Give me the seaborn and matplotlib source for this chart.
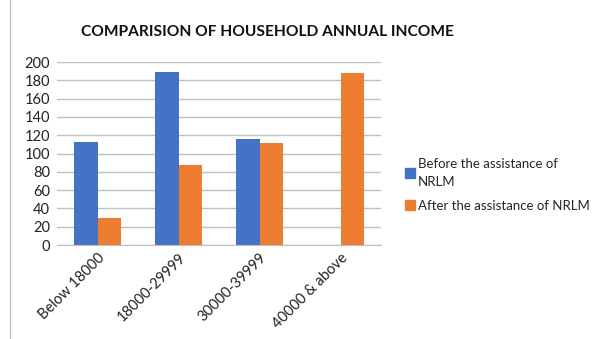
import numpy as np
import pandas as pd
import matplotlib.pyplot as plt
import seaborn as sns
from matplotlib.lines import Line2D

categories = ['Below 18000', '18000-29999', '30000-39999', '40000 & above']
before = [113, 189, 116, 0]
after = [30, 88, 112, 188]
series = ['Before the assistance of NRLM', 'After the assistance of NRLM']
colors = ['#4472C4', '#ED7D31']

df = pd.DataFrame({
    'Category': categories * 2,
    'Value': before + after,
    'Series': [series[0]] * 4 + [series[1]] * 4,
})

sns.set_style('white')
plt.rcParams['font.family'] = ['Lato', 'DejaVu Sans']

fig = plt.figure(figsize=(6, 3.39), dpi=100)
ax = fig.add_axes([0.095, 0.277, 0.54, 0.54])
sns.barplot(data=df, x='Category', y='Value', hue='Series', palette=colors,
            width=0.57, saturation=1, linewidth=0, ax=ax, legend=False)

ax.set_ylim(0, 200)
ax.set_xlim(-0.5, 3.5)
ax.set_yticks(range(0, 201, 20))
ax.yaxis.grid(True, color='#BFBFBF', linewidth=1)
ax.set_axisbelow(True)
for s in ['top', 'right', 'left']:
    ax.spines[s].set_visible(False)
ax.spines['bottom'].set_color('#BFBFBF')
ax.set_xlabel('')
ax.set_ylabel('')
ax.tick_params(axis='y', labelsize=10.5, colors='#222222', length=0, pad=5)
ax.tick_params(axis='x', labelsize=10.5, colors='#222222', length=0, pad=4)
plt.setp(ax.get_xticklabels(), rotation=45, ha='right', rotation_mode='anchor')

fig.text(0.445, 0.905, 'COMPARISION OF HOUSEHOLD ANNUAL INCOME', ha='center',
         va='center', fontsize=11.2, fontweight='bold', color='#111111')

handles = [Line2D([], [], marker='s', linestyle='', markersize=6.5,
                  markerfacecolor=colors[0], markeredgecolor=colors[0]),
           Line2D([], [], marker='s', linestyle='', markersize=6.5,
                  markerfacecolor=colors[1], markeredgecolor=colors[1])]
leg = fig.legend(handles, ['Before the assistance of\nNRLM', 'After the assistance of NRLM'],
                 loc='center left', bbox_to_anchor=(0.668, 0.455), frameon=False,
                 fontsize=9.5, handlelength=0.6, handletextpad=0.3, labelspacing=0.9,
                 borderaxespad=0)
for t in leg.get_texts():
    t.set_linespacing(1.6)

fig.add_artist(Line2D([0.017, 0.017], [0, 1], color='#BFBFBF', linewidth=1))

fig.savefig('out.png', dpi=100)
